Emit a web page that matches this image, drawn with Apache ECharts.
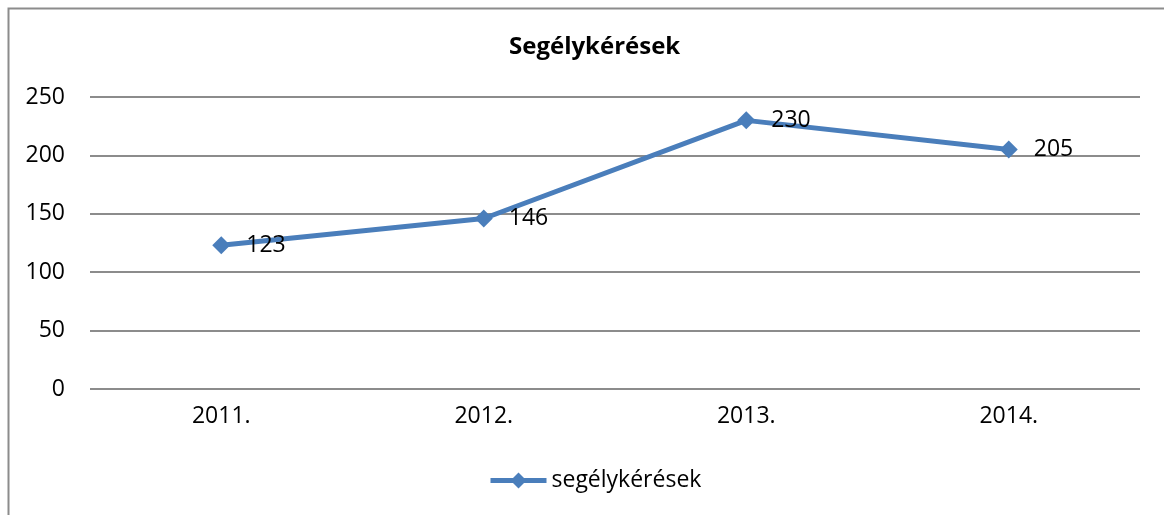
<!DOCTYPE html>
<html>
<head>
<meta charset="utf-8">
<script src="https://cdn.jsdelivr.net/npm/echarts@6/dist/echarts.min.js"></script>
<style>
html,body{margin:0;padding:0;background:#fff;}
#chart{width:1164px;height:515px;}
</style>
</head>
<body>
<div id="chart"></div>
<script>
// adatok
var years = ['2011.', '2012.', '2013.', '2014.'];
var requests = [123, 146, 230, 205];
var seriesName = 'segélykérések';
var titleText = 'Segélykérések';

var fontFam = '"Open Sans", "Noto Sans", sans-serif';
var myChart = echarts.init(document.getElementById('chart'));
var option = {
    animation: false,
    backgroundColor: '#fff',
    title: {
        text: titleText,
        left: 504,
        top: 30,
        textStyle: { fontFamily: fontFam, fontSize: 24, fontWeight: 'bold', color: '#000' }
    },
    legend: {
        data: [seriesName],
        bottom: 18,
        left: 483,
        itemWidth: 56,
        itemHeight: 20,
        itemGap: 4,
        lineStyle: { width: 5 },
        textStyle: { fontFamily: fontFam, fontSize: 23, color: '#000' }
    },
    graphic: [{
        type: 'rect',
        shape: { x: 8.5, y: 8.5, width: 1200, height: 600 },
        style: { fill: 'none', stroke: '#8c8c8c', lineWidth: 2 },
        silent: true
    }],
    grid: { left: 90, right: 24, top: 97, bottom: 126 },
    xAxis: {
        type: 'category',
        data: years,
        axisLine: { show: false },
        axisTick: { show: false },
        axisLabel: { fontFamily: fontFam, fontSize: 23, color: '#000', margin: 16 }
    },
    yAxis: {
        type: 'value',
        min: 0,
        max: 250,
        interval: 50,
        axisLine: { show: false },
        axisTick: { show: false },
        axisLabel: { fontFamily: fontFam, fontSize: 23, color: '#000', margin: 25 },
        splitLine: { lineStyle: { color: '#8c8c8c', width: 2 } }
    },
    series: [{
        name: seriesName,
        type: 'line',
        data: requests,
        symbol: 'diamond',
        symbolSize: 18,
        itemStyle: { color: '#4a7ebb' },
        lineStyle: { color: '#4a7ebb', width: 5 },
        label: {
            show: true,
            position: 'right',
            distance: 16,
            fontFamily: fontFam,
            fontSize: 23,
            color: '#000'
        }
    }]
};
myChart.setOption(option);
</script>
</body>
</html>
